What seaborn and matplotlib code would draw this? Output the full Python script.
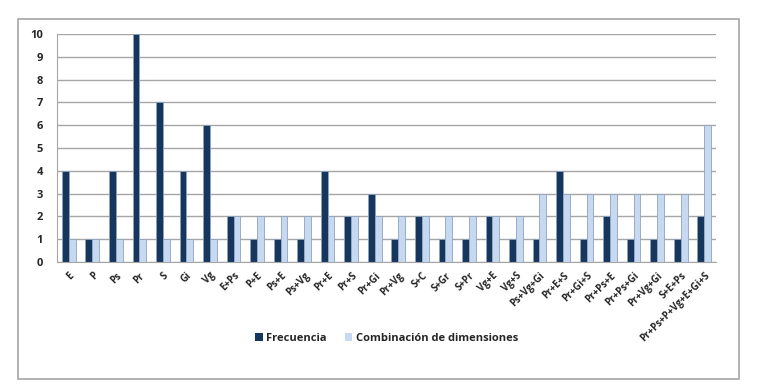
import numpy as np
import pandas as pd
import matplotlib
matplotlib.use("Agg")
import matplotlib.pyplot as plt
from matplotlib.patches import Rectangle
import seaborn as sns

# Data
categories = ['E', 'P', 'Ps', 'Pr', 'S', 'Gi', 'Vg', 'E+Ps', 'P+E', 'Ps+E', 'Ps+Vg',
              'Pr+E', 'Pr+S', 'Pr+Gi', 'Pr+Vg', 'S+C', 'S+Gr', 'S+Pr', 'Vg+E', 'Vg+S',
              'Ps+Vg+Gi', 'Pr+E+S', 'Pr+Gi+S', 'Pr+Ps+E', 'Pr+Ps+Gi', 'Pr+Vg+Gi',
              'S+E+Ps', 'Pr+Ps+P+Vg+E+Gi+S']
frecuencia = [4, 1, 4, 10, 7, 4, 6, 2, 1, 1, 1, 4, 2, 3, 1, 2, 1, 1, 2, 1, 1, 4, 1, 2, 1, 1, 1, 2]
combinacion = [1, 1, 1, 1, 1, 1, 1, 2, 2, 2, 2, 2, 2, 2, 2, 2, 2, 2, 2, 2, 3, 3, 3, 3, 3, 3, 3, 6]
y_ticks = list(range(0, 11))

df = pd.DataFrame({'Categoria': categories,
                   'Frecuencia': frecuencia,
                   'Combinación de dimensiones': combinacion})
long_df = df.melt(id_vars='Categoria', var_name='Serie', value_name='Valor')

sns.set_style('white')
plt.rcParams['font.family'] = ['Open Sans', 'DejaVu Sans']

fig = plt.figure(figsize=(7.64, 3.92), dpi=100)
ax = fig.add_axes([57 / 764, 1 - 262 / 392, (716 - 57) / 764, (262 - 34) / 392])

# outer chart frame
fig.patches.append(Rectangle((18 / 764, 1 - 379 / 392), (739 - 18) / 764, (379 - 19) / 392,
                             transform=fig.transFigure, fill=False,
                             edgecolor='#A6A6A6', linewidth=1.2, zorder=0))

sns.barplot(data=long_df, x='Categoria', y='Valor', hue='Serie', ax=ax,
            palette=['#17365D', '#C6D9F1'], width=0.58, gap=0,
            edgecolor='#8EA3BC', linewidth=0.6, saturation=1)

ax.set_ylim(0, 10)
ax.set_xlim(-0.5, len(categories) - 0.5)
ax.set_yticks(y_ticks)
ax.yaxis.grid(True, color='#A6A6A6', linewidth=1)
ax.set_axisbelow(True)
for s in ['top', 'right']:
    ax.spines[s].set_visible(False)
for s in ['left', 'bottom']:
    ax.spines[s].set_color('#A6A6A6')
ax.tick_params(axis='y', length=4, color='#A6A6A6', labelsize=8, pad=6)
for lbl in ax.get_yticklabels():
    lbl.set_fontweight('bold')

# category ticks between groups, labels at centres
ax.set_xticks(np.arange(len(categories) + 1) - 0.5)
ax.set_xticklabels([])
ax.tick_params(axis='x', which='major', length=4, color='#A6A6A6')
ax.set_xticks(np.arange(len(categories)), minor=True)
ax.set_xticklabels(categories, minor=True, rotation=45, ha='right',
                   rotation_mode='anchor', fontsize=7, fontweight='bold')
ax.tick_params(axis='x', which='minor', length=0, pad=6)
ax.set_xlabel('')
ax.set_ylabel('')

leg = ax.legend(loc='center', bbox_to_anchor=(0.5, -0.335), ncol=2, frameon=False,
                handlelength=0.7, handleheight=0.7, columnspacing=1.6, handletextpad=0.3,
                prop={'weight': 'bold', 'size': 8})
for h in leg.legend_handles:
    h.set_edgecolor('none')

fig.savefig('out.png', dpi=100)
